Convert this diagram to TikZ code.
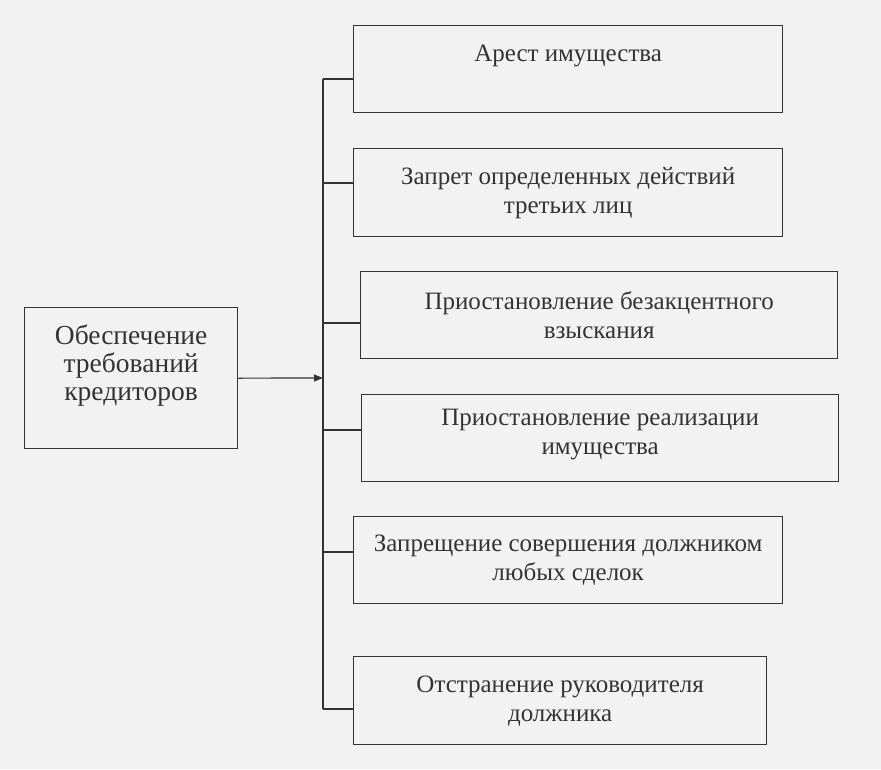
\documentclass[tikz,border=0pt]{standalone}
\usepackage{fontspec}
\setmainfont{Liberation Serif}
\usetikzlibrary{arrows.meta}
\definecolor{ink}{HTML}{333333}
\definecolor{paper}{HTML}{F2F2F2}
\begin{document}
\begin{tikzpicture}[x=1pt,y=-1pt,
  box/.style={draw=ink, line width=1.3pt, text=ink, anchor=north west, align=center,
    inner sep=0pt, font=\fontsize{25}{29}\selectfont},
  conn/.style={draw=ink, line width=1.2pt}]
\fill[paper] (0,0) rectangle (881,769);
\useasboundingbox (0,0) rectangle (881,769);
\node[box, minimum width=429pt, minimum height=87pt, text height=17pt, text depth=33pt] (b1) at (353,25) {Арест имущества};
\node[box, minimum width=429pt, minimum height=88pt] (b2) at (353,148) {Запрет определенных действий\\третьих лиц};
\node[box, minimum width=477pt, minimum height=87pt] (b3) at (360,271) {Приостановление безакцентного\\взыскания};
\node[box, minimum width=477pt, minimum height=87pt, text depth=13pt] (b4) at (361,394) {Приостановление реализации\\имущества};
\node[box, minimum width=429pt, minimum height=87pt] (b5) at (353,516) {Запрещение совершения должником\\любых сделок};
\node[box, minimum width=413pt, minimum height=88pt] (b6) at (353,656) {Отстранение руководителя\\должника};
\node[box, minimum width=213pt, minimum height=141pt, text depth=31pt, font=\fontsize{27.5}{28}\selectfont] (src) at (24,307) {Обеспечение\\требований\\кредиторов};
\coordinate (t1) at (323,79);
\coordinate (t2) at (323,183);
\coordinate (t3) at (323,323);
\coordinate (tin) at (323,378);
\coordinate (t4) at (323,430);
\coordinate (t5) at (323,552);
\coordinate (t6) at (323,709);
\draw[conn] (t1) -- (t6);
\draw[conn] (t1) -- (t1 -| b1.west);
\draw[conn] (t2) -- (t2 -| b2.west);
\draw[conn] (t3) -- (t3 -| b3.west);
\draw[conn] (t4) -- (t4 -| b4.west);
\draw[conn] (t5) -- (t5 -| b5.west);
\draw[conn] (t6) -- (t6 -| b6.west);
\draw[conn, -{Triangle[length=9pt,width=7pt]}] (src.east) -- (tin);
\end{tikzpicture}
\end{document}
